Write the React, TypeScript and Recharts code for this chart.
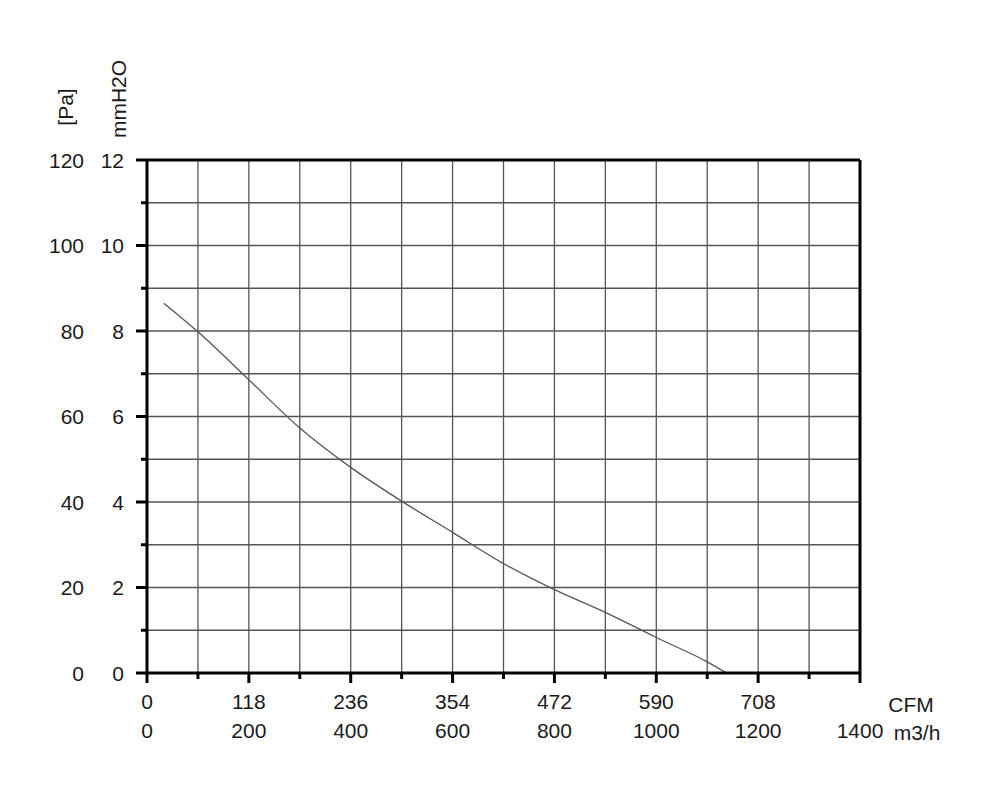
import React from "react";
import {
  LineChart,
  Line,
  XAxis,
  YAxis,
  CartesianGrid,
  ReferenceLine,
  Label,
} from "recharts";

// fan curve: airflow in m3/h, static pressure in mmH2O
const flowM3h = [33, 100, 200, 300, 400, 500, 600, 700, 800, 900, 1000, 1100, 1138];
const pressureMm = [8.65, 7.98, 6.86, 5.73, 4.81, 4.02, 3.29, 2.56, 1.95, 1.42, 0.83, 0.26, 0];

const xTicks = [0, 100, 200, 300, 400, 500, 600, 700, 800, 900, 1000, 1100, 1200, 1300, 1400];
const cfmLabels = ["0", "118", "236", "354", "472", "590", "708"];
const yTicks = [0, 1, 2, 3, 4, 5, 6, 7, 8, 9, 10, 11, 12];
const paLabels = ["0", "20", "40", "60", "80", "100", "120"];

const data = flowM3h.map((f, i) => ({ flow: f, p: pressureMm[i] }));

const FONT = "'Liberation Sans', Arial, sans-serif";
const INK = "#1a1a1a";
const FS = 21;

const XTick = ({ x, y, payload }: any) => {
  const v = payload.value as number;
  const major = v % 200 === 0;
  const idx = v / 200;
  return (
    <g>
      <line x1={x} x2={x} y1={y} y2={y + (major ? 10 : 6)} stroke="#000" strokeWidth={3} />
      {major && idx < cfmLabels.length && (
        <text x={x} y={y + 36} textAnchor="middle" fontSize={FS} fontFamily={FONT} fill={INK}>
          {cfmLabels[idx]}
        </text>
      )}
      {major && (
        <text x={x} y={y + 65} textAnchor="middle" fontSize={FS} fontFamily={FONT} fill={INK}>
          {v}
        </text>
      )}
    </g>
  );
};

const YTick = ({ x, y, payload }: any) => {
  const v = payload.value as number;
  const major = v % 2 === 0;
  return (
    <g>
      <line x1={x - (major ? 11 : 6)} x2={x} y1={y} y2={y} stroke="#000" strokeWidth={3} />
      {major && (
        <text x={x - 23} y={y + 7.5} textAnchor="end" fontSize={FS} fontFamily={FONT} fill={INK}>
          {v}
        </text>
      )}
      {major && (
        <text x={x - 63} y={y + 7.5} textAnchor="end" fontSize={FS} fontFamily={FONT} fill={INK}>
          {paLabels[v / 2]}
        </text>
      )}
    </g>
  );
};

export default function App() {
  return (
    <div style={{ position: "absolute", left: 0, top: 0, width: 1000, height: 810, background: "#fff" }}>
      <LineChart
        width={1000}
        height={810}
        data={data}
        margin={{ top: 160, right: 140, left: 47, bottom: 57 }}
      >
        <CartesianGrid stroke="#555" strokeWidth={1.3} horizontalValues={yTicks} verticalValues={xTicks} />
        <XAxis
          dataKey="flow"
          type="number"
          domain={[0, 1400]}
          ticks={xTicks}
          interval={0}
          height={80}
          tickSize={0}
          tickMargin={0}
          axisLine={{ stroke: "#000", strokeWidth: 3 }}
          tickLine={false}
          tick={<XTick />}
        >
          <Label
            content={() => (
              <g fontFamily={FONT} fontSize={FS} fill={INK}>
                <text x={911} y={712} textAnchor="middle">CFM</text>
                <text x={917} y={740} textAnchor="middle">m3/h</text>
              </g>
            )}
          />
        </XAxis>
        <YAxis
          type="number"
          domain={[0, 12]}
          ticks={yTicks}
          interval={0}
          width={100}
          tickSize={0}
          tickMargin={0}
          axisLine={{ stroke: "#000", strokeWidth: 3 }}
          tickLine={false}
          tick={<YTick />}
        >
          <Label
            content={() => (
              <g fontFamily={FONT} fontSize={FS} fill={INK}>
                <text x={73} y={107} textAnchor="middle" transform="rotate(-90 73 107)">[Pa]</text>
                <text x={126} y={99} textAnchor="middle" transform="rotate(-90 126 99)">mmH2O</text>
              </g>
            )}
          />
        </YAxis>
        <ReferenceLine y={12} stroke="#000" strokeWidth={3} />
        <ReferenceLine x={1400} stroke="#000" strokeWidth={3} />
        <Line
          type="monotone"
          dataKey="p"
          stroke="#555"
          strokeWidth={1.3}
          dot={false}
          isAnimationActive={false}
        />
      </LineChart>
    </div>
  );
}
